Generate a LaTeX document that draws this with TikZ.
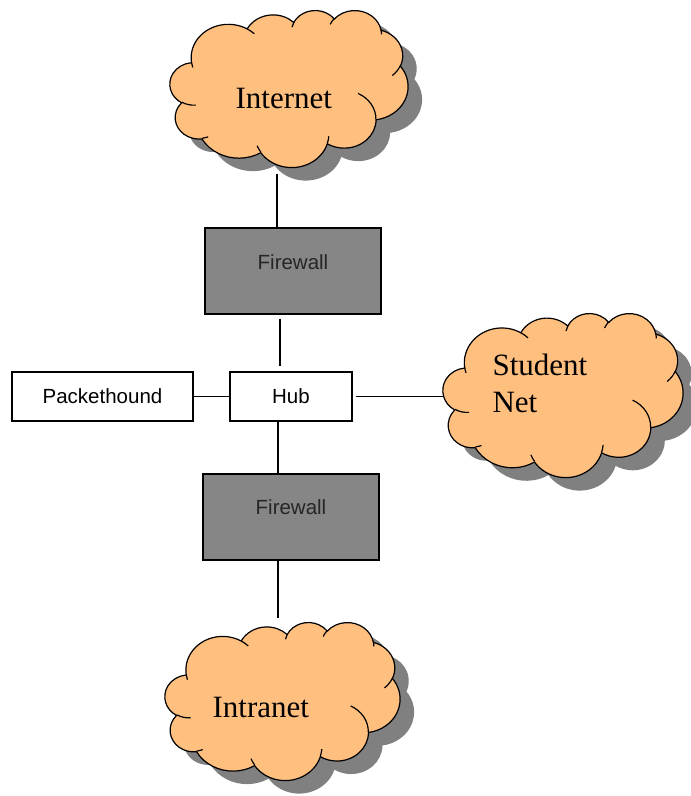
\documentclass[tikz,border=0pt]{standalone}
\usepackage{fontspec}
\setmainfont{Liberation Sans}
\newfontfamily\cloudfont{Liberation Serif}
\definecolor{cloudorange}{RGB}{255,191,127}
\definecolor{wallgray}{RGB}{134,134,134}

% cloud outline, in percent of its box
\newcommand\cloudpath{(9.028,33.264)
  arc[start angle=-187.747, end angle=-59.64, x radius=15.632, y radius=21.273]
  arc[start angle=-152.02, end angle=-45.44, x radius=12.345, y radius=16.822]
  arc[start angle=-153.48, end angle=-37.34, x radius=10.104, y radius=13.762]
  arc[start angle=-139.70, end angle=-10.21, x radius=11.243, y radius=15.266]
  arc[start angle=-74.77, end angle=23.21, x radius=12.345, y radius=16.836]
  arc[start angle=-37.54, end angle=81.86, x radius=15.683, y radius=21.343]
  arc[start angle=0.46, end angle=121.98, x radius=13.391, y radius=18.211]
  arc[start angle=16.845, end angle=146.26, x radius=15.630, y radius=21.331]
  arc[start angle=58.98, end angle=150.20, x radius=17.870, y radius=24.405]
  arc[start angle=-276.69, end angle=-136.88, x radius=10.093, y radius=13.699]
  arc[start angle=-239.65, end angle=-95.89, x radius=10.058, y radius=13.762] -- cycle}
\newcommand\cloudinner{
  (10.863,60.595) arc[start angle=85.55, end angle=120.35, x radius=10.058, y radius=13.762]
  (16.037,80.785) arc[start angle=68.23, end angle=83.31, x radius=10.093, y radius=13.699]
  (38.144,90.486) arc[start angle=146.26, end angle=158.47, x radius=15.630, y radius=21.331]
  (66.729,80.442) arc[start angle=4.738, end angle=16.845, x radius=15.630, y radius=21.331]
  (79.002,53.134) arc[start angle=-64.03, end angle=0.46, x radius=13.391, y radius=18.211]
  (96.755,35.542) arc[start angle=23.21, end angle=49.65, x radius=12.345, y radius=16.836]
  (88.713,12.560) arc[start angle=-10.21, end angle=0.82, x radius=11.243, y radius=15.266]
  (67.310,9.148) arc[start angle=-156.28, end angle=-139.70, x radius=11.243, y radius=15.266]
  (51.252,10.926) arc[start angle=-167.73, end angle=-153.48, x radius=10.104, y radius=13.762]
  (32.407,12.019) arc[start angle=-59.64, end angle=-45.74, x radius=15.632, y radius=21.273]
  (9.553,36.549) arc[start angle=163.19, end angle=172.25, x radius=15.632, y radius=21.273]}
% #1 top left corner, #2 width/100, #3 height/100
\newcommand\netshadow[3]{\fill[black!50, shift={#1}, xshift=14pt, yshift=-13pt, x=#2pt, y=-#3pt] \cloudpath;}
\newcommand\netcloud[3]{%
  \filldraw[fill=cloudorange, shift={#1}, x=#2pt, y=-#3pt] \cloudpath;
  \draw[shift={#1}, x=#2pt, y=-#3pt] \cloudinner;}

\begin{document}
\begin{tikzpicture}
  [x=1pt, y=-1pt, line width=1.2pt,
   netarea/.style={inner sep=0pt, outer sep=0pt},
   nettext/.style={anchor=base west, inner sep=0pt, font=\cloudfont\fontsize{31}{37}\selectfont},
   box/.style={draw, fill=white, inner sep=0pt, minimum height=49pt, font=\fontsize{20.5}{24}\selectfont},
   wall/.style={draw, fill=wallgray, inner sep=0pt, minimum width=176pt, minimum height=86pt},
   walltext/.style={font=\fontsize{20.5}{24}\selectfont, text=black!85}]
  \useasboundingbox[fill=white] (0,0) rectangle (691,796);

  % clouds
  \node[netarea, minimum width=238pt, minimum height=157pt] (inet) at (289,88.5) {};
  \node[netarea, minimum width=240pt, minimum height=164pt] (student) at (563,395) {};
  \node[netarea, minimum width=235pt, minimum height=158pt] (intra) at (282.5,701) {};
  \netshadow{(inet.north west)}{2.38}{1.57}
  \netshadow{(student.north west)}{2.40}{1.64}
  \netshadow{(intra.north west)}{2.35}{1.58}
  \netcloud{(inet.north west)}{2.38}{1.57}
  \netcloud{(student.north west)}{2.40}{1.64}
  \netcloud{(intra.north west)}{2.35}{1.58}
  \node[nettext] (inet-txt) at (235,108) {Internet};
  \node[nettext] (student-txt) at (492,375) {Student};
  \node[nettext] (net-txt) at (492,412) {Net};
  \node[nettext] (intra-txt) at (212,717) {Intranet};

  % boxes
  \node[wall, label={[walltext, yshift=9pt]center:Firewall}] (fw1) at (293,271) {};
  \node[wall, label={[walltext, yshift=10pt]center:Firewall}] (fw2) at (291,517) {};
  \node[box, minimum width=122pt] (hub) at (291,396.5) {Hub};
  \node[box, minimum width=181pt] (pkt) at (102.5,396.5) {Packethound};

  % links
  \draw ([xshift=-16pt]fw1.north) -- ([xshift=-16pt, yshift=53pt]fw1.north);
  \draw ([xshift=-13pt, yshift=-4pt]fw1.south) -- ([xshift=-11pt, yshift=5pt]hub.north);
  \draw ([xshift=-13pt]hub.south) -- ([xshift=-13pt]fw2.north);
  \draw ([xshift=-13pt]fw2.south) -- ([xshift=-13pt, yshift=-57pt]fw2.south);
  \draw (pkt.east) -- (hub.west);
  \draw ([xshift=3pt]hub.east) -- (student.west |- hub.east);
\end{tikzpicture}
\end{document}
